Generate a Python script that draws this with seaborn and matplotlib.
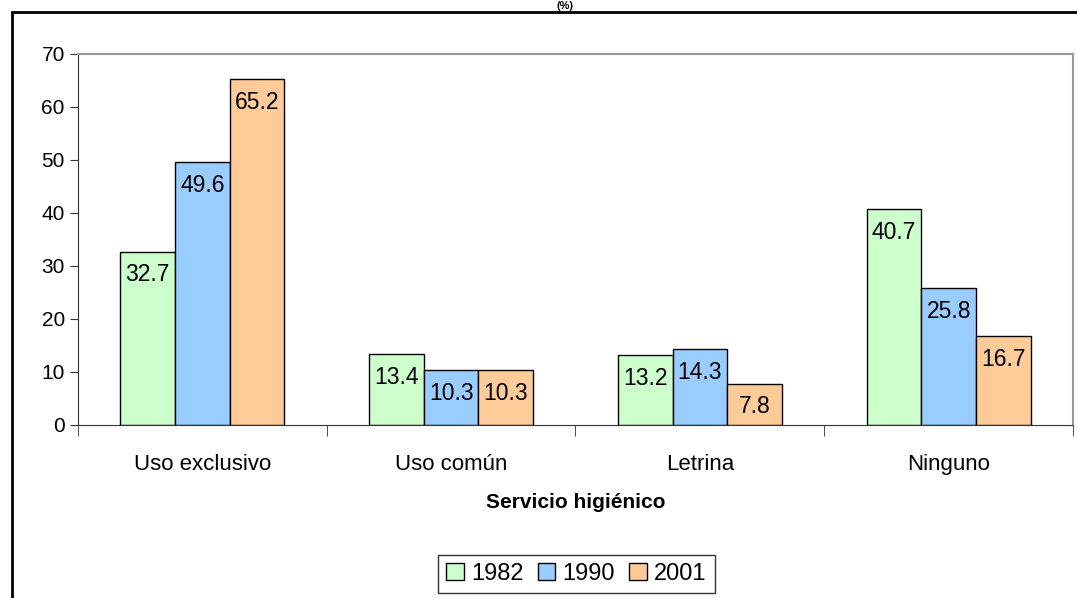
import numpy as np
import pandas as pd
import seaborn as sns
import matplotlib.pyplot as plt
from matplotlib.patches import Rectangle

sns.set_style("white")
plt.rcParams["font.family"] = ["Liberation Sans", "DejaVu Sans"]
plt.rcParams["text.color"] = "black"
plt.rcParams["axes.labelcolor"] = "black"
plt.rcParams["xtick.labelcolor"] = "black"
plt.rcParams["ytick.labelcolor"] = "black"

categories = ["Uso exclusivo", "Uso común", "Letrina", "Ninguno"]
years = ["1982", "1990", "2001"]
v1982 = [32.7, 13.4, 13.2, 40.7]
v1990 = [49.6, 10.3, 14.3, 25.8]
v2001 = [65.2, 10.3, 7.8, 16.7]
colors = ["#CCFFCC", "#99CCFF", "#FFCC99"]

data = pd.DataFrame({
    "Servicio": categories * 3,
    "Año": [y for y in years for _ in categories],
    "Valor": v1982 + v1990 + v2001,
})

fig = plt.figure(figsize=(10.77, 5.98), dpi=100)
ax = fig.add_axes([0.0724, 0.2893, 0.9239, 0.6204])

sns.barplot(ax=ax, data=data, x="Servicio", y="Valor", hue="Año",
            palette=colors, width=0.66, edgecolor="black", linewidth=1.0,
            saturation=1, legend=True)

for cont in ax.containers:
    ax.bar_label(cont, fmt="%.1f", label_type="edge", padding=-25, fontsize=16.5, color="black")

ax.set_ylim(0, 70)
ax.set_xlim(-0.5, 3.5)
ax.set_yticks(range(0, 71, 10))
ax.tick_params(axis="y", labelsize=15, length=6, direction="out", color="#333333", left=True)
ax.set_xticks(range(4))
ax.set_xticklabels(categories, fontsize=16)
ax.set_xticks(np.arange(-0.5, 4, 1.0), minor=True)
ax.tick_params(axis="x", which="major", length=0, pad=21)
ax.tick_params(axis="x", which="minor", length=8, direction="out", color="#333333", bottom=True)
ax.set_xlabel("Servicio higiénico", fontsize=15, fontweight="bold", labelpad=13)
ax.set_ylabel("")

for side in ["top", "right"]:
    ax.spines[side].set_color("#999999")
    ax.spines[side].set_linewidth(1.5)
ax.spines["left"].set_color("#333333")
ax.spines["bottom"].set_color("#333333")

handles, labels = ax.get_legend_handles_labels()
ax.get_legend().remove()
leg = fig.legend(handles, labels, loc="center", bbox_to_anchor=(0.535, 0.04),
                 ncol=3, fontsize=17, frameon=True, fancybox=False,
                 handlelength=0.75, handleheight=0.75, handletextpad=0.3,
                 columnspacing=0.6, borderpad=0.35)
leg.get_frame().set_edgecolor("black")
leg.get_frame().set_linewidth(1.0)

# marco exterior
fig.patches.append(Rectangle((12 / 1077, -0.1), 1.2, 1.08, transform=fig.transFigure,
                             fill=False, edgecolor="black", linewidth=2))
fig.text(0.525, 0.999, "(%)", ha="center", va="top", fontsize=8, fontweight="bold")

fig.savefig("out.png", dpi=100)
